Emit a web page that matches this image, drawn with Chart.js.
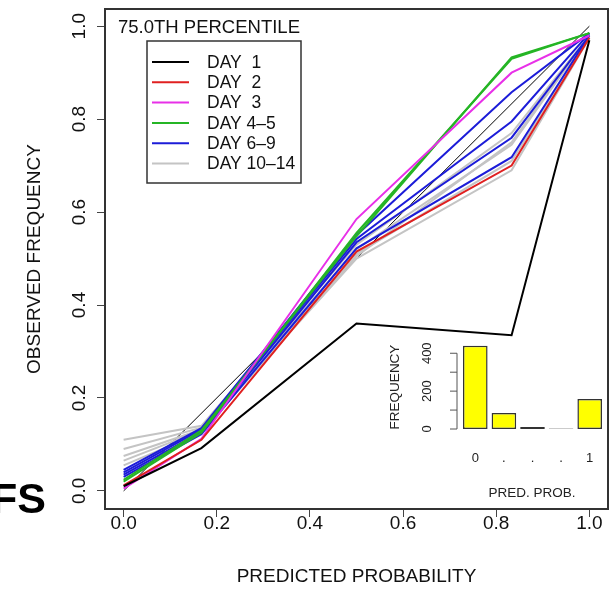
<!DOCTYPE html>
<html>
<head>
<meta charset="utf-8">
<script src="https://cdn.jsdelivr.net/npm/chart.js@4.4.1/dist/chart.umd.min.js"></script>
<style>
  body { margin: 0; background: #fff; }
  #wrap { position: relative; width: 616px; height: 589px; }
  #main { position: absolute; left: 0; top: 0; }
  #inset { position: absolute; left: 380px; top: 330px; }
</style>
</head>
<body>
<div id="wrap">
  <canvas id="main" width="616" height="589"></canvas>
  <canvas id="inset" width="226" height="175"></canvas>
</div>
<script>
// predicted probability bins (6-member ensemble)
const predProbs = [0, 0.167, 0.5, 0.833, 1];
const xTicks = [0, 0.2, 0.4, 0.6, 0.8, 1.0];
const yTicks = [0, 0.2, 0.4, 0.6, 0.8, 1.0];

// observed frequency, one array per forecast day
const day1  = [0.010, 0.092, 0.360, 0.335, 0.970];
const day2  = [0.012, 0.110, 0.515, 0.700, 0.975];
const day3  = [0.005, 0.112, 0.585, 0.900, 0.980];
const day4  = [0.020, 0.125, 0.555, 0.930, 0.985];
const day5  = [0.024, 0.130, 0.548, 0.933, 0.985];
const day6  = [0.045, 0.135, 0.550, 0.858, 0.985];
const day7  = [0.040, 0.132, 0.542, 0.795, 0.985];
const day8  = [0.035, 0.127, 0.535, 0.760, 0.980];
const day9  = [0.030, 0.122, 0.522, 0.718, 0.980];
const day10 = [0.110, 0.140, 0.530, 0.770, 0.980];
const day11 = [0.090, 0.136, 0.520, 0.745, 0.980];
const day12 = [0.075, 0.132, 0.510, 0.710, 0.975];
const day13 = [0.065, 0.130, 0.500, 0.690, 0.975];
const day14 = [0.055, 0.126, 0.505, 0.750, 0.980];

// inset histogram of forecast counts
const binLabels = ['0', '.', '.', '.', '1'];
const binCounts = [440, 85, 10, 3, 158];
const freqTicks = [0, 100, 200, 300, 400];
const freqLabels = [0, 200, 400];

const legendLabels = ['DAY  1', 'DAY  2', 'DAY  3', 'DAY 4\u20135', 'DAY 6\u20139', 'DAY 10\u201314'];
const legendColors = ['#000000', '#e02020', '#e830e8', '#25b525', '#1c1cd8', '#c4c4c4'];

const FONT = '"Liberation Sans", Arial, sans-serif';

function pts(vals) {
    return predProbs.map((p, i) => ({ x: p, y: vals[i] }));
}

function series(vals, color, order) {
    return {
        data: pts(vals),
        borderColor: color,
        borderWidth: 2,
        pointRadius: 0,
        fill: false,
        tension: 0,
        order: order
    };
}

const datasets = [
    series(day1, legendColors[0], 0),
    series(day2, legendColors[1], 1),
    series(day3, legendColors[2], 2),
    series(day4, legendColors[3], 3),
    series(day5, legendColors[3], 3),
    series(day6, legendColors[4], 4),
    series(day7, legendColors[4], 4),
    series(day8, legendColors[4], 4),
    series(day9, legendColors[4], 4),
    series(day10, legendColors[5], 5),
    series(day11, legendColors[5], 5),
    series(day12, legendColors[5], 5),
    series(day13, legendColors[5], 5),
    series(day14, legendColors[5], 5),
    // perfect reliability diagonal
    { data: [{ x: 0, y: 0 }, { x: 1, y: 1 }], borderColor: '#000', borderWidth: 1, pointRadius: 0, order: 6 }
];

const mainDecor = {
    id: 'mainDecor',
    afterDraw(chart) {
        const ctx = chart.ctx;
        const a = chart.chartArea;
        const xs = chart.scales.x, ys = chart.scales.y;
        ctx.save();
        // frame
        ctx.strokeStyle = '#333';
        ctx.lineWidth = 2;
        ctx.strokeRect(a.left, a.top, a.right - a.left, a.bottom - a.top);

        ctx.fillStyle = '#111';
        ctx.font = '19px ' + FONT;
        ctx.textAlign = 'center';
        ctx.textBaseline = 'middle';
        xTicks.forEach(v => ctx.fillText(v.toFixed(1), xs.getPixelForValue(v), 524));
        yTicks.forEach(v => {
            ctx.save();
            ctx.translate(80, ys.getPixelForValue(v));
            ctx.rotate(-Math.PI / 2);
            ctx.fillText(v.toFixed(1), 0, 0);
            ctx.restore();
        });

        // axis titles
        ctx.fillText('PREDICTED PROBABILITY', (a.left + a.right) / 2, 577);
        ctx.save();
        ctx.translate(35, (a.top + a.bottom) / 2);
        ctx.rotate(-Math.PI / 2);
        ctx.fillText('OBSERVED FREQUENCY', 0, 0);
        ctx.restore();

        // panel title
        ctx.textAlign = 'left';
        ctx.font = '18.5px ' + FONT;
        ctx.fillText('75.0TH PERCENTILE', 118, 28);

        // legend
        ctx.strokeStyle = '#333';
        ctx.lineWidth = 1.5;
        ctx.strokeRect(147, 41, 154, 142);
        ctx.font = '17.5px ' + FONT;
        legendLabels.forEach((lab, i) => {
            const y = 62 + i * 20.3;
            ctx.strokeStyle = legendColors[i];
            ctx.lineWidth = 2;
            ctx.beginPath();
            ctx.moveTo(152, y);
            ctx.lineTo(189, y);
            ctx.stroke();
            ctx.fillStyle = '#111';
            ctx.fillText(lab, 207, y + 1);
        });

        // cut-off panel tag from the neighbouring figure
        ctx.fillStyle = '#000';
        ctx.textAlign = 'right';
        ctx.textBaseline = 'alphabetic';
        ctx.font = 'bold 43px "Liberation Sans Narrow", ' + FONT;
        ctx.fillText('FS', 46, 513);
        ctx.restore();
    }
};

new Chart(document.getElementById('main'), {
    type: 'line',
    data: { datasets: datasets },
    options: {
        responsive: false,
        animation: false,
        layout: { padding: { top: 9, right: 8, left: 0, bottom: 0 } },
        plugins: { legend: { display: false }, tooltip: { enabled: false } },
        scales: {
            x: {
                type: 'linear',
                min: -0.04,
                max: 1.04,
                afterBuildTicks: s => { s.ticks = xTicks.map(v => ({ value: v })); },
                afterFit: s => { s.height = 80; },
                ticks: { display: false },
                border: { display: false },
                grid: { display: true, drawOnChartArea: false, drawTicks: true, tickLength: 8, color: '#444', lineWidth: 1 }
            },
            y: {
                type: 'linear',
                min: -0.039,
                max: 1.037,
                afterBuildTicks: s => { s.ticks = yTicks.map(v => ({ value: v })); },
                afterFit: s => { s.width = 105; },
                ticks: { display: false },
                border: { display: false },
                grid: { display: true, drawOnChartArea: false, drawTicks: true, tickLength: 8, color: '#444', lineWidth: 1 }
            }
        }
    },
    plugins: [mainDecor]
});

const insetDecor = {
    id: 'insetDecor',
    afterDraw(chart) {
        const ctx = chart.ctx;
        const xs = chart.scales.x, ys = chart.scales.y;
        ctx.save();
        ctx.strokeStyle = '#555';
        ctx.lineWidth = 1;
        const ax = 77;
        ctx.beginPath();
        ctx.moveTo(ax, ys.getPixelForValue(0));
        ctx.lineTo(ax, ys.getPixelForValue(400));
        freqTicks.forEach(v => {
            const y = ys.getPixelForValue(v);
            ctx.moveTo(ax, y);
            ctx.lineTo(ax - 7, y);
        });
        ctx.stroke();

        ctx.fillStyle = '#222';
        ctx.font = '13px ' + FONT;
        ctx.textAlign = 'center';
        ctx.textBaseline = 'middle';
        freqLabels.forEach(v => {
            ctx.save();
            ctx.translate(47, ys.getPixelForValue(v));
            ctx.rotate(-Math.PI / 2);
            ctx.fillText(String(v), 0, 0);
            ctx.restore();
        });
        binLabels.forEach((lab, i) => ctx.fillText(lab, xs.getPixelForValue(i), 128));
        ctx.font = '13.5px ' + FONT;
        ctx.fillText('PRED. PROB.', 152, 163);
        ctx.save();
        ctx.translate(15, 57);
        ctx.rotate(-Math.PI / 2);
        ctx.fillText('FREQUENCY', 0, 0);
        ctx.restore();
        ctx.restore();
    }
};

new Chart(document.getElementById('inset'), {
    type: 'bar',
    data: {
        labels: binLabels,
        datasets: [{
            data: binCounts,
            backgroundColor: '#ffff00',
            borderColor: '#333',
            borderWidth: 1.5,
            borderSkipped: false,
            barPercentage: 0.86,
            categoryPercentage: 1.0
        }]
    },
    options: {
        responsive: false,
        animation: false,
        layout: { padding: { left: 81, right: 2, top: 10, bottom: 76 } },
        plugins: { legend: { display: false }, tooltip: { enabled: false } },
        scales: {
            x: { display: false },
            y: { display: false, min: 0, max: 470 }
        }
    },
    plugins: [insetDecor]
});
</script>
</body>
</html>
